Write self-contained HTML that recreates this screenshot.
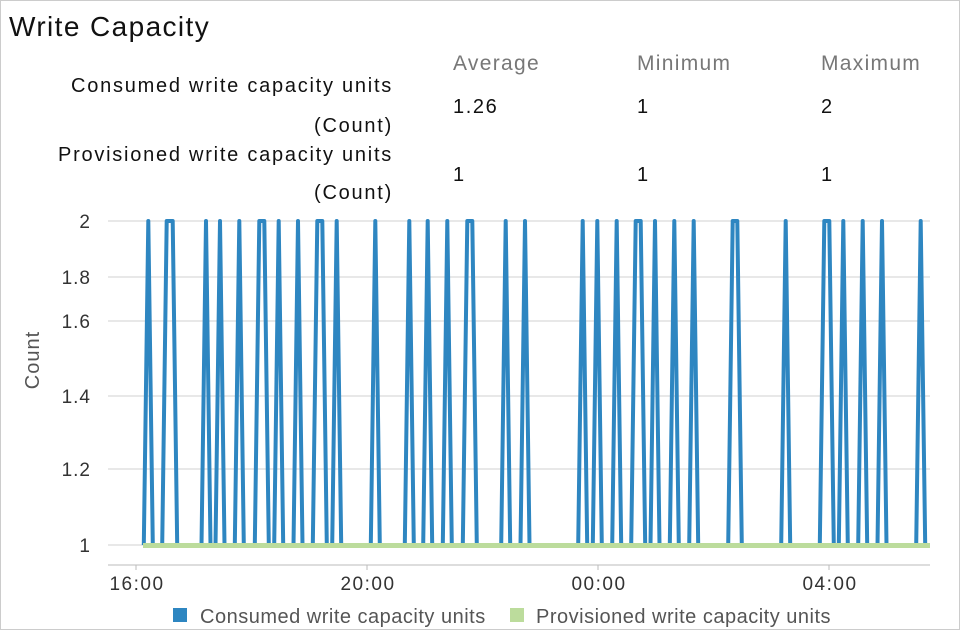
<!DOCTYPE html>
<html><head><meta charset="utf-8"><style>
body{margin:0;background:#fff;font-family:"Liberation Sans",sans-serif;}
#wrap{position:relative;width:958px;height:628px;border:1px solid #ccc;overflow:hidden;}
.t{position:absolute;white-space:nowrap;color:#111;}
.l{font-size:20px;letter-spacing:1.6px;}
.r{letter-spacing:1.75px;}
</style></head><body><div id="wrap">
<div class="t" style="left:8px;top:10px;font-size:28px;letter-spacing:1.4px;">Write Capacity</div>
<div class="t" style="left:452px;top:51px;font-size:21px;color:#777;letter-spacing:1.3px">Average</div>
<div class="t" style="left:636px;top:51px;font-size:21px;color:#777;letter-spacing:1.3px">Minimum</div>
<div class="t" style="left:820px;top:51px;font-size:21px;color:#777;letter-spacing:1.3px">Maximum</div>
<div class="t l r" style="right:566px;top:74px;">Consumed write capacity units</div>
<div class="t l r" style="right:566px;top:114px;">(Count)</div>
<div class="t l r" style="right:566px;top:143px;">Provisioned write capacity units</div>
<div class="t l r" style="right:566px;top:181px;">(Count)</div>
<div class="t l" style="left:452px;top:95px;">1.26</div>
<div class="t l" style="left:636px;top:95px;">1</div>
<div class="t l" style="left:820px;top:95px;">2</div>
<div class="t l" style="left:452px;top:163px;">1</div>
<div class="t l" style="left:636px;top:163px;">1</div>
<div class="t l" style="left:820px;top:163px;">1</div>
<svg width="960" height="630" style="position:absolute;left:-1px;top:-1px" id="s">
<g stroke="#e8e8e8" stroke-width="2">
<line x1="108" x2="930" y1="221" y2="221"/><line x1="108" x2="930" y1="277" y2="277"/>
<line x1="108" x2="930" y1="321" y2="321"/><line x1="108" x2="930" y1="396" y2="396"/>
<line x1="108" x2="930" y1="469" y2="469"/><line x1="108" x2="930" y1="545" y2="545"/>
</g>
<line x1="108" x2="930" y1="565" y2="565" stroke="#bbb" stroke-width="1"/>
<g font-size="19" fill="#333" text-anchor="end" font-family="Liberation Sans" letter-spacing="1">
<text x="91" y="228">2</text><text x="91" y="284">1.8</text><text x="91" y="328">1.6</text>
<text x="91" y="403">1.4</text><text x="91" y="476">1.2</text><text x="91" y="552">1</text>
</g>
<text transform="translate(39,360) rotate(-90)" font-size="20" fill="#555" text-anchor="middle" font-family="Liberation Sans" letter-spacing="1">Count</text>
<g font-size="19" fill="#333" text-anchor="middle" font-family="Liberation Sans" letter-spacing="1.5">
<line x1="136" x2="136" y1="565" y2="570" stroke="#bbb"/><line x1="367" x2="367" y1="565" y2="570" stroke="#bbb"/>
<line x1="598" x2="598" y1="565" y2="570" stroke="#bbb"/><line x1="829" x2="829" y1="565" y2="570" stroke="#bbb"/>
<text x="137" y="590">16:00</text><text x="368" y="590">20:00</text><text x="599" y="590">00:00</text><text x="830" y="590">04:00</text>
</g>
<polyline id="p" fill="none" stroke="#2e86c1" stroke-width="4" stroke-linejoin="round"/>
<line x1="143" x2="930" y1="545.5" y2="545.5" stroke="#bcdc9c" stroke-width="5"/>
<rect x="173" y="608" width="14" height="14" fill="#2e86c1"/>
<text x="200" y="623" font-size="20" fill="#555" font-family="Liberation Sans" letter-spacing="0.5">Consumed write capacity units</text>
<rect x="510" y="608" width="14" height="14" fill="#bcdc9c"/>
<text x="536" y="623" font-size="20" fill="#555" font-family="Liberation Sans" letter-spacing="0.5">Provisioned write capacity units</text>
</svg>
<script>
var sp=[[148.3],[166.7,172.7],[206],[220],[239.3],[259.3,264.3],[278.7],[298],[317.3,322.3],[336.7],[375.3],[409.3],[427.7],[447.3],[467.3,472.3],[505.7],[525],[582.7],[597.3],[616.7],[635.7,640.7],[655],[674.3],[693.7],[732.7,737.3],[785.7],[824.3,829.3],[843.3],[862.7],[882],[920.7]];
var pts=["143,545"];
sp.forEach(function(s){var a=s[0],b=s[s.length-1];
pts.push((a-4.5)+",545",a+",221",b+",221",(b+4.5)+",545");});
pts.push("929,545");
document.getElementById("p").setAttribute("points",pts.join(" "));
</script>
</div></body></html>
